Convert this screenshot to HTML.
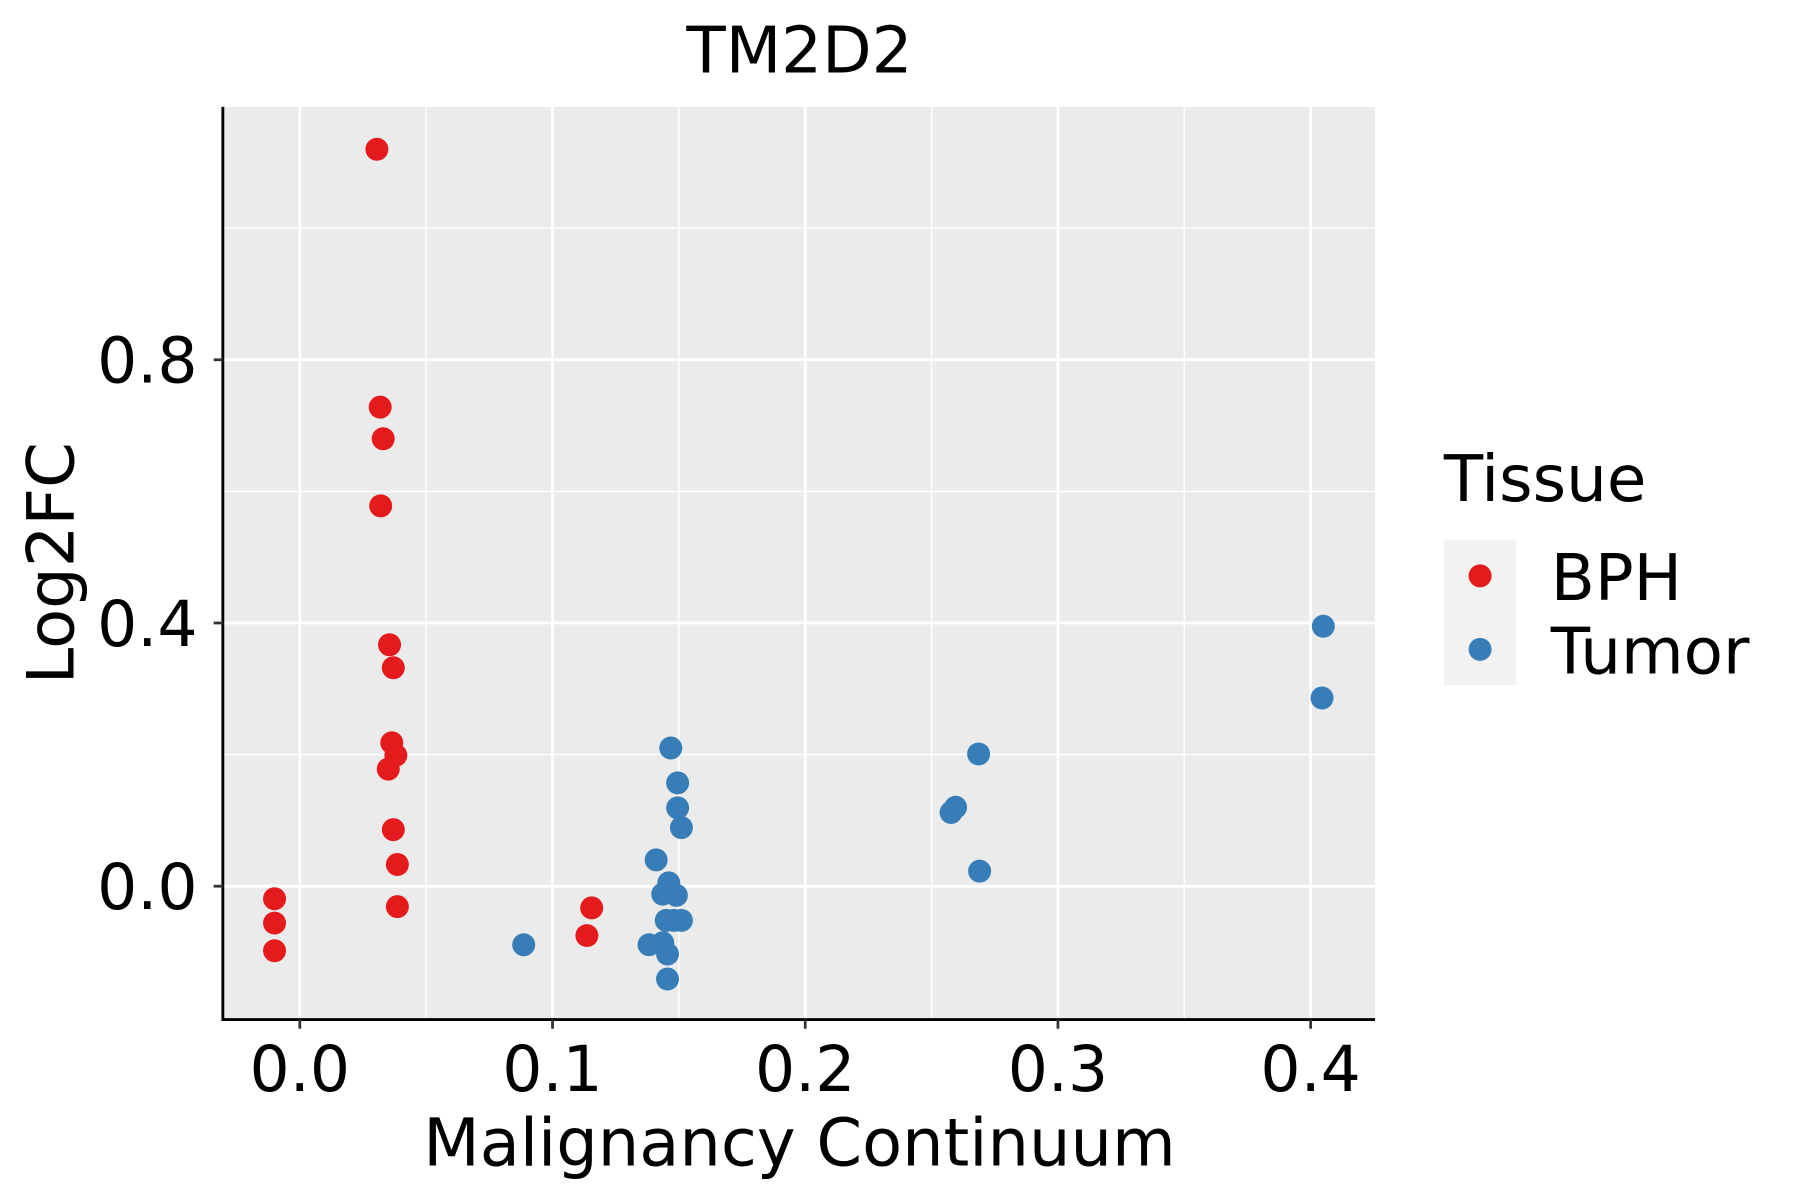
<!DOCTYPE html>
<html><head><meta charset="utf-8"><style>
html,body{margin:0;padding:0;background:#fff;}
svg{display:block;font-family:"DejaVu Sans","Liberation Sans",sans-serif;}
</style></head><body>
<svg id="chart" width="1800" height="1200" viewBox="0 0 1567 1044" preserveAspectRatio="none" xmlns="http://www.w3.org/2000/svg">
<rect width="1567" height="1044" fill="#fff"/>
<text x="696" y="63" font-size="56" text-anchor="middle">TM2D2</text>
<rect x="195" y="93" width="1002" height="794" fill="#ebebeb"/>
<g id="grid"></g>
<g id="points"></g>
<line x1="194" y1="93" x2="194" y2="888" stroke="#000" stroke-width="2.5"/>
<line x1="193" y1="887" x2="1197" y2="887" stroke="#000" stroke-width="2.5"/>
<g id="ticks"></g>
<text x="696" y="1014" font-size="57" text-anchor="middle">Malignancy Continuum</text>
<text transform="translate(64,490) rotate(-90)" font-size="57" text-anchor="middle">Log2FC</text>
<g>
<text x="1257" y="436" font-size="56">Tissue</text>
<rect x="1257" y="470" width="63" height="126" fill="#f2f2f2"/>
<circle cx="1288.5" cy="501" r="10" fill="#e41a1c"/>
<circle cx="1288.5" cy="565" r="10" fill="#377eb8"/>
<text x="1350" y="522" font-size="56">BPH</text>
<text x="1350" y="586" font-size="56">Tumor</text>
</g>
</svg>
<script>
const bphX=[0.0305,0.0318,0.033,0.032,0.0355,0.037,0.0364,0.038,0.035,0.037,0.0386,0.0386,-0.01,-0.01,-0.01,0.1155,0.1136];
const bphY=[1.12,0.728,0.68,0.578,0.367,0.332,0.218,0.199,0.178,0.086,0.033,-0.031,-0.019,-0.056,-0.098,-0.033,-0.075];
const tumorX=[0.0886,0.1468,0.1495,0.1495,0.151,0.141,0.146,0.1436,0.149,0.145,0.151,0.148,0.1382,0.1436,0.1455,0.1455,0.2577,0.2595,0.2686,0.269,0.405,0.4045];
const tumorY=[-0.089,0.21,0.157,0.119,0.089,0.04,0.005,-0.012,-0.014,-0.052,-0.052,-0.052,-0.089,-0.086,-0.103,-0.141,0.112,0.12,0.201,0.023,0.395,0.286];
const xTicks=[0,0.1,0.2,0.3,0.4];
const xTickLabels=["0.0","0.1","0.2","0.3","0.4"];
const xMinor=[0.05,0.15,0.25,0.35];
const yTicks=[0,0.4,0.8];
const yTickLabels=["0.0","0.4","0.8"];
const yMinor=[0.2,0.6,1.0];

const NS="http://www.w3.org/2000/svg";
function sx(v){return 261+v*2200;}
function sy(v){return 771-v*572.5;}
function mk(tag,attrs,parent){const e=document.createElementNS(NS,tag);for(const k in attrs)e.setAttribute(k,attrs[k]);parent.appendChild(e);return e;}
const grid=document.getElementById('grid'),pts=document.getElementById('points'),tk=document.getElementById('ticks');
xMinor.forEach(v=>{const l=mk('line',{x1:sx(v),x2:sx(v),y1:93,y2:887,stroke:'#fff','stroke-width':1.2},grid);

});
yMinor.forEach(v=>{const l=mk('line',{x1:195,x2:1197,y1:sy(v),y2:sy(v),stroke:'#fff','stroke-width':1.2},grid);

});
xTicks.forEach((v,i)=>{const l=mk('line',{x1:sx(v),x2:sx(v),y1:93,y2:887,stroke:'#fff','stroke-width':2.4},grid);


const t=mk('line',{x1:sx(v),x2:sx(v),y1:887,y2:895,stroke:'#333','stroke-width':2.4},tk);


const tx=mk('text',{x:sx(v),y:949,'font-size':55,'text-anchor':'middle',fill:'#000'},tk);tx.textContent=xTickLabels[i];

});
yTicks.forEach((v,i)=>{const l=mk('line',{x1:195,x2:1197,y1:sy(v),y2:sy(v),stroke:'#fff','stroke-width':2.4},grid);


const t=mk('line',{x1:186,x2:194,y1:sy(v),y2:sy(v),stroke:'#333','stroke-width':2.4},tk);


const tx=mk('text',{x:172,y:sy(v)+20,'font-size':55,'text-anchor':'end',fill:'#000'},tk);tx.textContent=yTickLabels[i];

});
bphX.forEach((v,i)=>{const c=mk('circle',{cx:sx(v),cy:sy(bphY[i]),r:10,fill:'#e41a1c'},pts);

});
tumorX.forEach((v,i)=>{const c=mk('circle',{cx:sx(v),cy:sy(tumorY[i]),r:10,fill:'#377eb8'},pts);

});
</script>
</body></html>
